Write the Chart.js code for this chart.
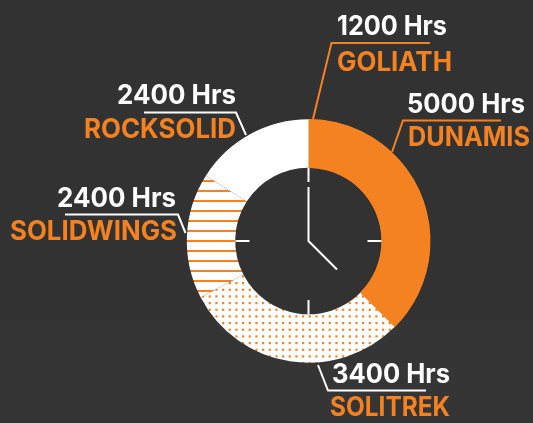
<!DOCTYPE html>
<html><head><meta charset="utf-8">
<style>
html,body{margin:0;padding:0;width:533px;height:423px;overflow:hidden;background:linear-gradient(#333233 0,#333233 320px,#353535 320px,#353535 423px)}
canvas{display:block}
</style>
<script src="https://cdn.jsdelivr.net/npm/chart.js@4/dist/chart.umd.min.js"></script>
</head><body><canvas id="c" width="533" height="423"></canvas>
<script>
const categories=["GOLIATH","DUNAMIS","SOLITREK","SOLIDWINGS","ROCKSOLID"];
const hourLabels=["1200 Hrs","5000 Hrs","3400 Hrs","2400 Hrs","2400 Hrs"];
const sweepDegrees=[26,109,107.5,60,57.5];

const ORANGE="#f58220",WHITE="#ffffff";
function stripes(){
  const p=document.createElement("canvas");p.width=10;p.height=10;
  const g=p.getContext("2d");g.fillStyle=WHITE;g.fillRect(0,0,10,10);
  g.fillStyle=ORANGE;g.fillRect(0,0,10,2);
  return g.createPattern(p,"repeat");
}
function dots(){
  const p=document.createElement("canvas");p.width=20;p.height=20;
  const g=p.getContext("2d");g.fillStyle=WHITE;g.fillRect(0,0,20,20);
  g.fillStyle=ORANGE;
  for(let i=0;i<3;i++)for(let j=0;j<3;j++){
    g.fillRect(2+i*6.667,2+j*6.667,2.2,2.2);
  }
  return g.createPattern(p,"repeat");
}
const callouts=[
 {i:0,col:ORANGE,line:[[313,119],[331.5,43],[430,43]],hx:337,hy:34.5,hw:110,lx:337,ly:71,lw:115},
 {i:1,col:ORANGE,line:[[392,152],[403,120.5],[501,120.5]],hx:407,hy:113,hw:118,lx:408,ly:146,lw:122},
 {i:2,col:WHITE,line:[[318,365],[328,390.5],[426,390.5]],hx:332,hy:383,hw:118,lx:330,ly:416,lw:120},
 {i:3,col:WHITE,line:[[185.5,233],[178,214.5],[65,214.5]],hx:57,hy:207,hw:119,lx:10,ly:240,lw:167},
 {i:4,col:WHITE,line:[[246,135],[236,112.5],[144,112.5]],hx:117,hy:104,hw:119,lx:84,ly:138,lw:152}
];
const overlay={id:"overlay",afterDatasetsDraw(chart){
  const ctx=chart.ctx,arc=chart.getDatasetMeta(0).data[0],cx=arc.x,cy=arc.y;
  ctx.save();
  ctx.strokeStyle=WHITE;ctx.lineWidth=2;ctx.lineCap="butt";
  const seg=(a,b,c,d)=>{ctx.beginPath();ctx.moveTo(cx+a,cy+b);ctx.lineTo(cx+c,cy+d);ctx.stroke();};
  seg(0,-73,0,-59);seg(0,73,0,59);seg(-73,0,-59,0);seg(73,0,59,0);
  ctx.beginPath();ctx.moveTo(cx,cy-54);ctx.lineTo(cx,cy);ctx.lineTo(cx+28.5,cy+28.5);ctx.stroke();
  ctx.textBaseline="alphabetic";ctx.textAlign="left";
  callouts.forEach(o=>{
    ctx.strokeStyle=o.col;ctx.lineWidth=2;ctx.lineJoin="miter";
    ctx.beginPath();o.line.forEach((p,k)=>k?ctx.lineTo(p[0],p[1]):ctx.moveTo(p[0],p[1]));ctx.stroke();
    ctx.font='700 26.5px Inter, "Open Sans", sans-serif';
    ctx.fillStyle=WHITE;ctx.fillText(hourLabels[o.i],o.hx,o.hy,o.hw);
    ctx.fillStyle=ORANGE;ctx.fillText(categories[o.i],o.lx,o.ly,o.lw);
  });
  ctx.restore();
}};
new Chart(document.getElementById("c"),{
  type:"doughnut",
  data:{labels:categories,datasets:[{
    data:sweepDegrees,
    backgroundColor:[ORANGE,ORANGE,dots(),stripes(),WHITE],
    borderColor:[ORANGE,ORANGE,"rgba(0,0,0,0)","rgba(0,0,0,0)","rgba(0,0,0,0)"],
    borderWidth:[1,1,0,0,0],
    borderAlign:"inner",
    hoverOffset:0
  }]},
  options:{
    responsive:false,animation:false,
    cutout:"59.8%",
    layout:{padding:{left:186.5,right:102.5,top:119,bottom:60}},
    plugins:{legend:{display:false},tooltip:{enabled:false},title:{display:false}},
    events:[]
  },
  plugins:[overlay]
});
</script></body></html>
